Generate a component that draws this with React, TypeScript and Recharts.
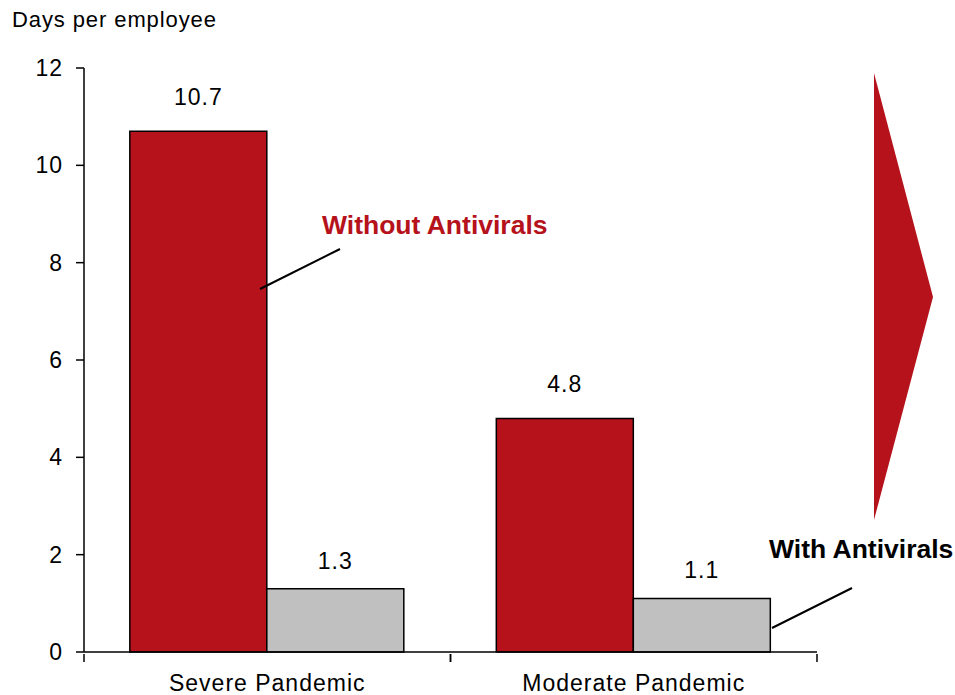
import React from 'react';
import { BarChart, Bar, XAxis, YAxis, LabelList } from 'recharts';

const categories = ['Severe Pandemic', 'Moderate Pandemic'];
const withoutAntivirals = [10.7, 4.8];
const withAntivirals = [1.3, 1.1];
const yTicks = [0, 2, 4, 6, 8, 10, 12];

const RED = '#B5121B';
const GRAY = '#C0C0C0';
const FONT = '"Liberation Sans", Arial, sans-serif';

const data = categories.map((name, i) => ({
  name,
  without: withoutAntivirals[i],
  with: withAntivirals[i],
}));

// category label at band center, tick marks at band edges
function CategoryTick(props: any) {
  const { x, y, payload } = props;
  const half = payload?.offset ?? 183;
  return (
    <g>
      <line x1={x - half} y1={y - 8} x2={x - half} y2={y} stroke="#000" strokeWidth={1.5} />
      <line x1={x + half} y1={y - 8} x2={x + half} y2={y} stroke="#000" strokeWidth={1.5} />
      <text x={x} y={y + 29} textAnchor="middle" fontSize={23} fontFamily={FONT} fill="#000" letterSpacing={1}>
        {payload.value}
      </text>
    </g>
  );
}

export default function App() {
  return (
    <div style={{ position: 'absolute', left: 0, top: 0, width: 955, height: 695, background: '#fff' }}>
      <BarChart
        width={955}
        height={695}
        data={data}
        barCategoryGap="12.5%"
        barGap={0}
        margin={{ top: 68, right: 138, left: 0, bottom: 0 }}
      >
        <XAxis
          dataKey="name"
          height={43}
          tickLine={false}
          axisLine={{ stroke: '#000', strokeWidth: 1.5 }}
          tickSize={8}
          tick={<CategoryTick />}
          interval={0}
        />
        <YAxis
          width={84}
          domain={[0, 12]}
          ticks={yTicks}
          tickSize={8}
          tickMargin={13}
          axisLine={{ stroke: '#000', strokeWidth: 1.5 }}
          tickLine={{ stroke: '#000', strokeWidth: 1.5 }}
          tick={{ fontSize: 23, fill: '#000', fontFamily: FONT, letterSpacing: 1 }}
        />
        <Bar dataKey="without" fill={RED} stroke="#000" strokeWidth={1.5} isAnimationActive={false}>
          <LabelList dataKey="without" position="top" offset={26} fontSize={23} fill="#000" fontFamily={FONT} letterSpacing={1} />
        </Bar>
        <Bar dataKey="with" fill={GRAY} stroke="#000" strokeWidth={1.5} isAnimationActive={false}>
          <LabelList dataKey="with" position="top" offset={20} fontSize={23} fill="#000" fontFamily={FONT} letterSpacing={1} />
        </Bar>
      </BarChart>
      <svg width={955} height={695} style={{ position: 'absolute', left: 0, top: 0, pointerEvents: 'none' }}>
        <text x={12} y={27} fontSize={22} fontFamily={FONT} fill="#000" letterSpacing={0.9}>
          Days per employee
        </text>
        <text x={322} y={234} fontSize={26.5} fontWeight="bold" fontFamily={FONT} fill={RED}>
          Without Antivirals
        </text>
        <line x1={260} y1={289} x2={340} y2={249} stroke="#000" strokeWidth={2} />
        <text x={769} y={558} fontSize={26.5} fontWeight="bold" fontFamily={FONT} fill="#000">
          With Antivirals
        </text>
        <line x1={772} y1={628} x2={852} y2={588} stroke="#000" strokeWidth={2} />
        <polygon points="874,73 933,297 874,520" fill={RED} />
      </svg>
    </div>
  );
}
